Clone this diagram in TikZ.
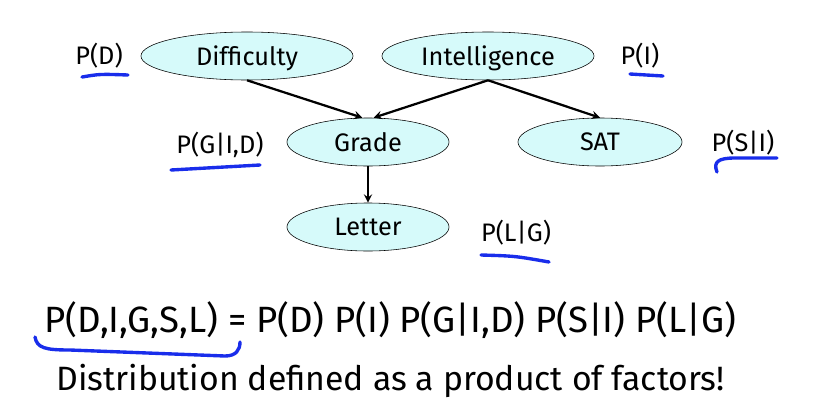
\documentclass[tikz,border=0pt]{standalone}
\usepackage{fontspec}
\setmainfont{Fira Sans}
\usetikzlibrary{shapes.geometric}

\definecolor{nodecyan}{RGB}{214,250,250}
\definecolor{penblue}{RGB}{25,45,235}

\begin{document}
\begin{tikzpicture}[x=0.025cm,y=-0.025cm]

\def\varh{1.2cm}
\tikzstyle{var} = [
	draw, ellipse, fill=nodecyan, inner sep=0pt, text depth=0pt,
	minimum height=\varh, font=\fontsize{18}{21}\selectfont ];
\tikzstyle{cpd} = [draw=none,fill=none,inner sep=0pt,font=\fontsize{18}{21}\selectfont];
\tikzstyle{edge} = [->,>=stealth,line width=1.6pt];
\tikzstyle{pen} = [penblue,line width=2.4pt,line cap=round];
\useasboundingbox (0,0) rectangle (820,402);

% network
\node[var,minimum width=5.3cm] (D) at (247,56) {Difficulty};
\node[var,minimum width=5.3cm] (I) at (488,56) {Intelligence};
\node[var,minimum width=4.05cm] (G) at (368,142) {Grade};
\node[var,minimum width=4.1cm] (S) at (600,142) {SAT};
\node[var,minimum width=4.05cm] (L) at (368,227) {Letter};

\draw[edge] (D.south) -- ([xshift=-4pt]G.north);
\draw[edge] (I.south) -- ([xshift=4pt]G.north);
\draw[edge] (I.south) -- (S.north);
\draw[edge] (G) -- (L);

% factors
\node[cpd] (pD) at (99,56) {P(D)};
\node[cpd] (pI) at (640,56) {P(I)};
\node[cpd] (pG) at (220,145) {P(G|I,D)};
\node[cpd] (pS) at (743,143) {P(S|I)};
\node[cpd] (pL) at (516,233) {P(L|G)};

\draw[pen] (82,77) .. controls (100,74) .. (128,75);
\draw[pen] (630,74) -- (663,76);
\draw[pen] (171,170) .. controls (215,167) .. (260,165);
\draw[pen] (717,172) .. controls (713,162) and (718,158) .. (735,158) -- (777,158);
\draw[pen] (481,255) .. controls (515,256) .. (549,262);

% joint
\node[anchor=west,inner sep=0pt,font=\fontsize{26}{31}\selectfont] (joint) at (44,320)
	{P(D,I,G,S,L) = P(D) P(I) P(G|I,D) P(S|I) P(L|G)};
\node[anchor=west,inner sep=0pt,font=\fontsize{24}{28}\selectfont] (note) at (56,381)
	{Distribution defined as a product of factors!};
\draw[pen] (35,337) .. controls (37,348) and (45,350) .. (70,350)
	-- (225,356) .. controls (236,356) and (240,350) .. (240,342);

\end{tikzpicture}
\end{document}
